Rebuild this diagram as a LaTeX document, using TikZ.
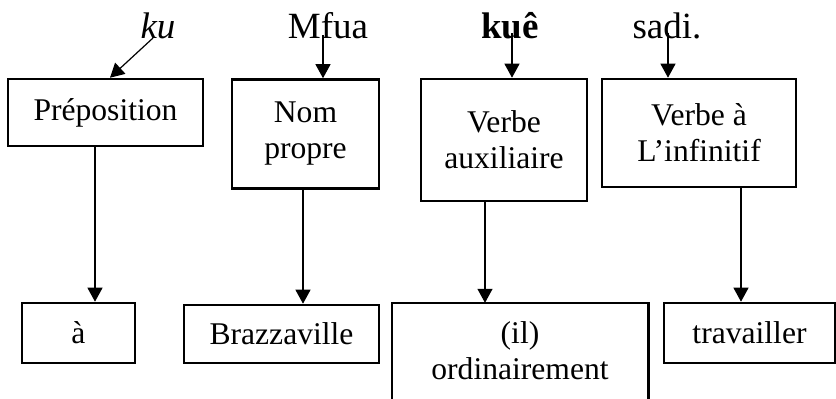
\documentclass[tikz,border=0pt]{standalone}
\usepackage{fontspec}
\setmainfont{Liberation Serif}
\usetikzlibrary{arrows.meta}
\newcommand\diagfont{\fontsize{31.6}{36}\selectfont}
\newcommand\wordfont{\fontsize{37}{42}\selectfont}
\begin{document}
\begin{tikzpicture}[x=1pt,y=-1pt,
  box/.style={draw, line width=2.6pt, inner sep=0pt, align=center, font=\diagfont},
  word/.style={anchor=base, inner sep=0pt, font=\wordfont},
  arr/.style={line width=1.2pt, -{Triangle[length=14pt,width=15pt]}}]
\useasboundingbox (0,0) rectangle (836,399);
% words
\node[word] (ku)   at (158,38) {\itshape ku};
\node[word] (mfua) at (328,38) {Mfua};
\node[word] (kue)  at (510,38) {\bfseries kuê};
\node[word] (sadi) at (667,38) {sadi.};
% category boxes
\node[box, minimum width=195pt, minimum height=67pt]  (prep) at (105.5,112.5) {Préposition};
\node[box, minimum width=147pt, minimum height=109pt] (nom)  at (305.5,134) {Nom\\propre};
\node[box, minimum width=166pt, minimum height=122pt] (aux)  at (504,140) {Verbe\\auxiliaire};
\node[box, minimum width=194pt, minimum height=108pt] (inf)  at (699,133) {Verbe à\\L’infinitif};
% translation boxes
\node[box, minimum width=113pt, minimum height=60pt] (a)    at (78.5,333) {à};
\node[box, minimum width=195pt, minimum height=58pt] (braz) at (281.5,334) {Brazzaville};
\node[inner sep=0pt, align=center, font=\diagfont, minimum width=256pt, minimum height=96pt] (ord) at (520,351) {(il)\\ordinairement};
\draw[line width=2.6pt] (ord.south west) -- (ord.north west) -- (ord.north east) -- (ord.south east);
\node[box, minimum width=171pt, minimum height=60pt] (trav) at (749.5,333) {travailler};
% arrow start points / columns
\coordinate (kuS) at (153,38);
\coordinate (mfS) at (323,35);
\coordinate (kuE) at (512,33);
\coordinate (saS) at (668,33);
\coordinate (c1) at (95,0);
\coordinate (c2) at (303,0);
\coordinate (c3) at (485,0);
\coordinate (c4) at (741,0);
% arrows from words
\draw[arr] (kuS) -- ([xshift=4.5pt]prep.north);
\draw[arr] (mfS) -- (mfS |- nom.north);
\draw[arr] (kuE) -- (kuE |- aux.north);
\draw[arr] (saS) -- (saS |- inf.north);
% arrows down
\draw[arr] (prep.south -| c1) -- (a.north -| c1);
\draw[arr] (nom.south -| c2) -- (braz.north -| c2);
\draw[arr] (aux.south -| c3) -- (ord.north -| c3);
\draw[arr] (inf.south -| c4) -- (trav.north -| c4);
\end{tikzpicture}
\end{document}
